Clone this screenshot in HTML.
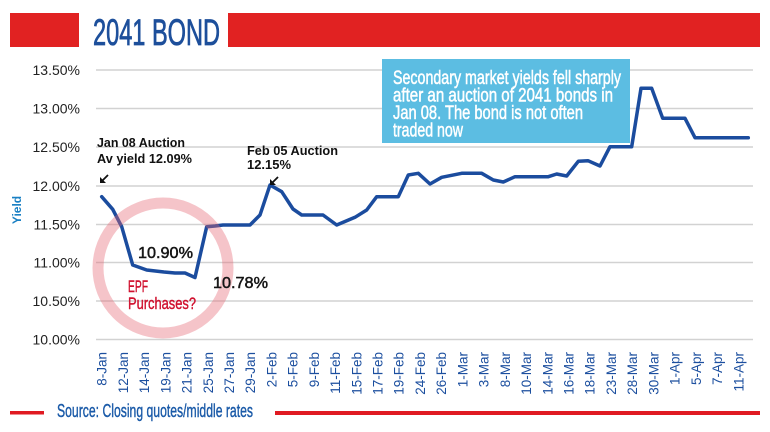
<!DOCTYPE html>
<html><head><meta charset="utf-8"><style>
html,body{margin:0;padding:0;background:#fff;}
svg{display:block;}
</style></head><body>
<svg width="770" height="432" viewBox="0 0 770 432" xmlns="http://www.w3.org/2000/svg" font-family="Liberation Sans, sans-serif">
<rect width="770" height="432" fill="#fff"/>
<!-- title bars -->
<rect x="10" y="13" width="69" height="34" fill="#e12222"/>
<rect x="228" y="13" width="532" height="34" fill="#e12222"/>
<text x="93" y="45" font-size="37" fill="#1d4f9b" stroke="#1d4f9b" stroke-width="0.8" textLength="127" lengthAdjust="spacingAndGlyphs">2041 BOND</text>
<!-- gridlines -->
<g stroke="#d2d2d2" stroke-width="1.5">
<line x1="96" y1="70" x2="753" y2="70"/>
<line x1="96" y1="108.5" x2="753" y2="108.5"/>
<line x1="96" y1="147" x2="753" y2="147"/>
<line x1="96" y1="186" x2="753" y2="186"/>
<line x1="96" y1="224.5" x2="753" y2="224.5"/>
<line x1="96" y1="262.5" x2="753" y2="262.5"/>
<line x1="96" y1="301" x2="753" y2="301"/>
<line x1="96" y1="339.5" x2="753" y2="339.5"/>
</g>
<!-- y labels -->
<g font-size="14" fill="#222" text-anchor="end">
<text x="80" y="75">13.50%</text>
<text x="80" y="113.5">13.00%</text>
<text x="80" y="152">12.50%</text>
<text x="80" y="191">12.00%</text>
<text x="80" y="229.5">11.50%</text>
<text x="80" y="267.5">11.00%</text>
<text x="80" y="306">10.50%</text>
<text x="80" y="344.5">10.00%</text>
</g>
<text transform="translate(21,210) rotate(-90)" font-size="12" font-weight="bold" fill="#1a80c4" text-anchor="middle">Yield</text>
<!-- callout -->
<rect x="382" y="59" width="248" height="84" fill="#5cbde2"/>
<g fill="#fff" stroke="#fff" stroke-width="0.5" font-size="19">
<text x="393" y="84" textLength="228" lengthAdjust="spacingAndGlyphs">Secondary market yields fell sharply</text>
<text x="393" y="101.5" textLength="220" lengthAdjust="spacingAndGlyphs">after an auction of 2041 bonds in</text>
<text x="393" y="119" textLength="190" lengthAdjust="spacingAndGlyphs">Jan 08. The bond is not often</text>
<text x="393" y="136.5" textLength="70" lengthAdjust="spacingAndGlyphs">traded now</text>
</g>
<!-- series -->
<polyline fill="none" stroke="#1b4c9e" stroke-width="3.5" stroke-linejoin="round" stroke-linecap="round"
points="101.7,196.7 112.7,209.3 121.7,226.7 132.7,265 146.7,270 164,272 175,273 185,273 195,277.5 206.7,226.7 215,226 223,225 250,225 260,215 270,185 281.7,191.7 293,209 301.7,215 323,215 336.7,225 355,217.3 366.7,210 376.7,196.7 398.3,196.7 408.3,175 418.3,173.3 430,184 441.7,177.3 461.7,173.3 481.7,173.3 493.3,180 503.3,182 515,176.7 548.3,176.7 556.7,174 566.7,176 578.3,161.3 588,160.7 600,166 610,146.7 631.7,146.7 641,88.3 651.7,88.3 662.7,118.3 685,118.3 695,137.7 748.3,137.7"/>
<!-- circle -->
<circle cx="163" cy="268" r="65" fill="none" stroke="rgba(228,100,112,0.38)" stroke-width="11"/>
<!-- annotations -->
<g fill="#111" font-size="12.5" font-weight="bold">
<text x="97" y="147" textLength="88" lengthAdjust="spacingAndGlyphs">Jan 08 Auction</text>
<text x="97" y="163" textLength="95" lengthAdjust="spacingAndGlyphs">Av yield 12.09%</text>
<text x="247" y="155" textLength="91" lengthAdjust="spacingAndGlyphs">Feb 05 Auction</text>
<text x="247" y="169" textLength="44" lengthAdjust="spacingAndGlyphs">12.15%</text>
</g>
<g stroke="#111" stroke-width="1.8" fill="#111">
<line x1="108" y1="175" x2="102" y2="181"/>
<polygon points="100,183 100,177 106,183" stroke="none"/>
<line x1="278" y1="177" x2="272" y2="183"/>
<polygon points="270,185 270,179 276,185" stroke="none"/>
</g>
<g fill="#151515" stroke="#151515" stroke-width="0.5" font-size="16">
<text x="138" y="258" textLength="55" lengthAdjust="spacingAndGlyphs">10.90%</text>
<text x="213" y="288" textLength="55" lengthAdjust="spacingAndGlyphs">10.78%</text>
</g>
<g fill="#d0102e" stroke="#d0102e" stroke-width="0.4" font-size="17">
<text x="128" y="292" textLength="20" lengthAdjust="spacingAndGlyphs">EPF</text>
<text x="128" y="309" textLength="68" lengthAdjust="spacingAndGlyphs">Purchases?</text>
</g>
<!-- x labels -->
<g fill="#1c4f9f" font-size="13.5" text-anchor="end">
<text transform="translate(106.7,352) rotate(-90)">8-Jan</text>
<text transform="translate(127.9,352) rotate(-90)">12-Jan</text>
<text transform="translate(149.1,352) rotate(-90)">14-Jan</text>
<text transform="translate(170.3,352) rotate(-90)">19-Jan</text>
<text transform="translate(191.5,352) rotate(-90)">21-Jan</text>
<text transform="translate(212.8,352) rotate(-90)">25-Jan</text>
<text transform="translate(234.0,352) rotate(-90)">27-Jan</text>
<text transform="translate(255.2,352) rotate(-90)">29-Jan</text>
<text transform="translate(276.4,352) rotate(-90)">2-Feb</text>
<text transform="translate(297.6,352) rotate(-90)">5-Feb</text>
<text transform="translate(318.9,352) rotate(-90)">9-Feb</text>
<text transform="translate(340.1,352) rotate(-90)">11-Feb</text>
<text transform="translate(361.3,352) rotate(-90)">15-Feb</text>
<text transform="translate(382.5,352) rotate(-90)">17-Feb</text>
<text transform="translate(403.7,352) rotate(-90)">19-Feb</text>
<text transform="translate(425.0,352) rotate(-90)">24-Feb</text>
<text transform="translate(446.2,352) rotate(-90)">26-Feb</text>
<text transform="translate(467.4,352) rotate(-90)">1-Mar</text>
<text transform="translate(488.6,352) rotate(-90)">3-Mar</text>
<text transform="translate(509.8,352) rotate(-90)">8-Mar</text>
<text transform="translate(531.1,352) rotate(-90)">10-Mar</text>
<text transform="translate(552.3,352) rotate(-90)">14-Mar</text>
<text transform="translate(573.5,352) rotate(-90)">16-Mar</text>
<text transform="translate(594.7,352) rotate(-90)">18-Mar</text>
<text transform="translate(615.9,352) rotate(-90)">23-Mar</text>
<text transform="translate(637.2,352) rotate(-90)">28-Mar</text>
<text transform="translate(658.4,352) rotate(-90)">30-Mar</text>
<text transform="translate(679.6,352) rotate(-90)">1-Apr</text>
<text transform="translate(700.8,352) rotate(-90)">5-Apr</text>
<text transform="translate(722.0,352) rotate(-90)">7-Apr</text>
<text transform="translate(743.3,352) rotate(-90)">11-Apr</text>
</g>
<!-- footer -->
<rect x="10" y="411" width="34" height="3.5" fill="#e01a22"/>
<text x="57" y="417" font-size="18" fill="#1a5aa8" stroke="#1a5aa8" stroke-width="0.4" textLength="196" lengthAdjust="spacingAndGlyphs">Source: Closing quotes/middle rates</text>
<rect x="275" y="411" width="485" height="4" fill="#e01a22"/>
</svg>
</body></html>
